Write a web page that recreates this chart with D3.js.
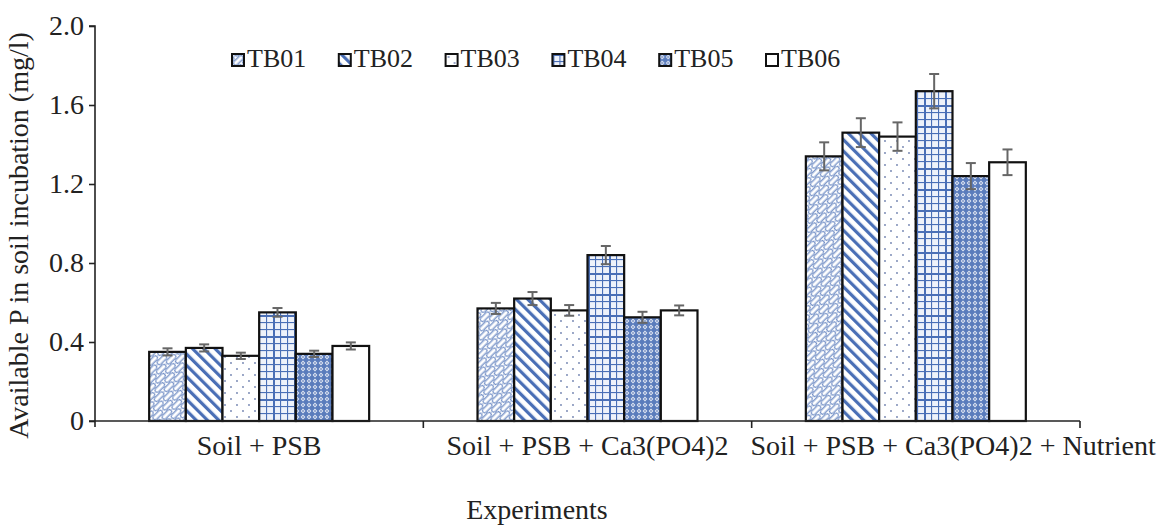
<!DOCTYPE html>
<html>
<head>
<meta charset="utf-8">
<script src="https://cdn.jsdelivr.net/npm/d3@7"></script>
<style>
  html, body { margin: 0; padding: 0; background: #fff; }
  svg { display: block; }
  text { font-family: "Liberation Serif", "Times New Roman", serif; fill: #222; }
</style>
</head>
<body>
<svg id="chart" width="1164" height="528"></svg>
<script>
// ---- data ----
const categories = ["Soil + PSB", "Soil + PSB + Ca3(PO4)2", "Soil + PSB + Ca3(PO4)2 + Nutrient"];
const seriesNames = ["TB01", "TB02", "TB03", "TB04", "TB05", "TB06"];
const TB01 = [0.35, 0.57, 1.34];
const TB02 = [0.37, 0.62, 1.46];
const TB03 = [0.33, 0.56, 1.44];
const TB04 = [0.55, 0.84, 1.67];
const TB05 = [0.34, 0.525, 1.24];
const TB06 = [0.38, 0.56, 1.31];
const TB01err = [0.018, 0.028, 0.071];
const TB02err = [0.018, 0.033, 0.073];
const TB03err = [0.016, 0.027, 0.072];
const TB04err = [0.022, 0.046, 0.087];
const TB05err = [0.016, 0.028, 0.066];
const TB06err = [0.018, 0.025, 0.065];
const yTicks = [0, 0.4, 0.8, 1.2, 1.6, 2.0];
const yTitle = "Available P in soil incubation (mg/l)";
const xTitle = "Experiments";

const values = [TB01, TB02, TB03, TB04, TB05, TB06];
const errors = [TB01err, TB02err, TB03err, TB04err, TB05err, TB06err];

(function () {
// ---- layout ----
const svg = d3.select("#chart");
const blue = "#4a6fb6";
const mLeft = 95, mRight = 1080, mTop = 26, mBottom = 421;

const x = d3.scaleBand().domain(categories).range([mLeft, mRight]).paddingInner(0).paddingOuter(0);
const groupW = x.bandwidth() * 0.67;
const x1 = d3.scaleBand().domain(seriesNames)
  .range([(x.bandwidth() - groupW) / 2, (x.bandwidth() + groupW) / 2]).padding(0);
const y = d3.scaleLinear().domain([0, 2]).range([mBottom, mTop]);

// ---- patterns ----
const defs = svg.append("defs");
// TB01 shingle (rounded bricks on a diagonal)
{
  const p = defs.append("pattern").attr("id", "pat0").attr("patternUnits", "userSpaceOnUse")
    .attr("width", 14).attr("height", 12).attr("patternTransform", "rotate(-45)");
  p.append("rect").attr("width", 14).attr("height", 12).attr("fill", "#fff");
  const g = p.append("g").attr("fill", "none").attr("stroke", blue).attr("stroke-width", 1);
  g.append("rect").attr("x", 1).attr("y", 0.8).attr("width", 12).attr("height", 4.4).attr("rx", 2.2);
  g.append("rect").attr("x", -6).attr("y", 6.8).attr("width", 12).attr("height", 4.4).attr("rx", 2.2);
  g.append("rect").attr("x", 8).attr("y", 6.8).attr("width", 12).attr("height", 4.4).attr("rx", 2.2);
}
// TB02 diagonal stripes
{
  const p = defs.append("pattern").attr("id", "pat1").attr("patternUnits", "userSpaceOnUse")
    .attr("width", 8).attr("height", 8).attr("patternTransform", "rotate(-45)");
  p.append("rect").attr("width", 8).attr("height", 8).attr("fill", "#fff");
  p.append("rect").attr("width", 3.2).attr("height", 8).attr("fill", blue);
}
// TB03 dots
{
  const p = defs.append("pattern").attr("id", "pat2").attr("patternUnits", "userSpaceOnUse")
    .attr("width", 12).attr("height", 12);
  p.append("rect").attr("width", 12).attr("height", 12).attr("fill", "#fff");
  p.append("circle").attr("cx", 3).attr("cy", 3).attr("r", 0.9).attr("fill", "#6d7fae");
  p.append("circle").attr("cx", 9).attr("cy", 9).attr("r", 0.9).attr("fill", "#6d7fae");
}
// TB04 plaid grid
{
  const p = defs.append("pattern").attr("id", "pat3").attr("patternUnits", "userSpaceOnUse")
    .attr("width", 21).attr("height", 21);
  p.append("rect").attr("width", 21).attr("height", 21).attr("fill", "#eef2fa");
  [0, 7, 14].forEach((v, i) => {
    const w = i === 0 ? 2 : 1.1;
    p.append("rect").attr("x", v).attr("y", 0).attr("width", w).attr("height", 21).attr("fill", blue);
    p.append("rect").attr("x", 0).attr("y", v).attr("width", 21).attr("height", w).attr("fill", blue);
  });
}
// TB05 dense diamonds
{
  const p = defs.append("pattern").attr("id", "pat4").attr("patternUnits", "userSpaceOnUse")
    .attr("width", 6).attr("height", 6);
  p.append("rect").attr("width", 6).attr("height", 6).attr("fill", "#5a7cbc");
  p.append("path").attr("d", "M3,0.6 L5.4,3 L3,5.4 L0.6,3 Z").attr("fill", "#dfe6f4");
  p.append("circle").attr("cx", 3).attr("cy", 3).attr("r", 0.8).attr("fill", "#3f5fa4");
}
const fills = ["url(#pat0)", "url(#pat1)", "url(#pat2)", "url(#pat3)", "url(#pat4)", "#fff"];

// ---- bars ----
const rows = [];
seriesNames.forEach((s, si) => {
  categories.forEach((c, ci) => {
    rows.push({ s, si, c, v: values[si][ci], e: errors[si][ci] });
  });
});

svg.append("g").selectAll("rect").data(rows).join("rect")
  .attr("x", d => x(d.c) + x1(d.s))
  .attr("y", d => y(d.v))
  .attr("width", x1.bandwidth())
  .attr("height", d => y(0) - y(d.v))
  .attr("fill", d => fills[d.si])
  .attr("stroke", "#111")
  .attr("stroke-width", 2.2);

// error bars
const eg = svg.append("g").attr("stroke", "#666").attr("stroke-width", 2);
rows.forEach(d => {
  const cx = x(d.c) + x1(d.s) + x1.bandwidth() / 2;
  eg.append("line").attr("x1", cx).attr("x2", cx).attr("y1", y(d.v + d.e)).attr("y2", y(d.v - d.e));
  eg.append("line").attr("x1", cx - 5).attr("x2", cx + 5).attr("y1", y(d.v + d.e)).attr("y2", y(d.v + d.e));
  eg.append("line").attr("x1", cx - 5).attr("x2", cx + 5).attr("y1", y(d.v - d.e)).attr("y2", y(d.v - d.e));
});

// ---- axes ----
const yAxis = svg.append("g").attr("transform", `translate(${mLeft},0)`)
  .call(d3.axisLeft(y).tickValues(yTicks).tickSize(6).tickPadding(5)
    .tickFormat(d => d === 0 ? "0" : d3.format(".1f")(d)));
yAxis.select(".domain").attr("d", `M-6,${mTop}H0V${mBottom + 6}`).attr("stroke", "#222").attr("stroke-width", 1.6);
yAxis.selectAll(".tick line").attr("stroke", "#222").attr("stroke-width", 1.6);
yAxis.selectAll(".tick text").attr("font-size", 28).attr("font-family", "Liberation Serif").attr("fill", "#222");

const xAxis = svg.append("g").attr("transform", `translate(0,${mBottom})`)
  .call(d3.axisBottom(x).tickSize(0).tickPadding(14));
xAxis.select(".domain").attr("d", `M${mLeft - 6},0H${mRight}`).attr("stroke", "#222").attr("stroke-width", 1.6);
xAxis.selectAll(".tick text").attr("font-size", 28).attr("font-family", "Liberation Serif").attr("fill", "#222")
  .attr("dy", "0.71em");
// boundary ticks
const bounds = categories.map(c => x(c) + x.bandwidth());
xAxis.selectAll(".bound").data(bounds).join("line").attr("class", "bound")
  .attr("x1", d => d).attr("x2", d => d).attr("y1", 0).attr("y2", 7)
  .attr("stroke", "#222").attr("stroke-width", 1.6);
// avoid label overlap: push labels right if they overlap the previous one
{
  let prevRight = -Infinity;
  const gap = 22;
  xAxis.selectAll(".tick").each(function () {
    const t = d3.select(this).select("text");
    const bb = t.node().getBBox();
    const m = d3.select(this).attr("transform").match(/translate\(([-\d.]+)/);
    const tx = +m[1];
    const l = tx + bb.x, r = tx + bb.x + bb.width;
    if (l < prevRight + gap) {
      const shift = prevRight + gap - l;
      t.attr("x", shift);
      prevRight = r + shift;
    } else prevRight = r;
  });
}

// titles
svg.append("text").attr("transform", `translate(28,${(mTop + mBottom) / 2 + 12}) rotate(-90)`)
  .attr("text-anchor", "middle").attr("font-size", 28).text(yTitle);
svg.append("text").attr("x", 537).attr("y", 519).attr("text-anchor", "middle")
  .attr("font-size", 28).text(xTitle);

// ---- legend ----
const legend = svg.append("g").attr("transform", "translate(232,54)");
const li = legend.selectAll("g").data(seriesNames).join("g")
  .attr("transform", (d, i) => `translate(${i * 106.8},0)`);
li.append("rect").attr("width", 12).attr("height", 12)
  .attr("fill", (d, i) => fills[i]).attr("stroke", "#111").attr("stroke-width", 2);
li.append("text").attr("x", 15).attr("y", 13).attr("font-size", 26).text(d => d);
})();
</script>
</body>
</html>
